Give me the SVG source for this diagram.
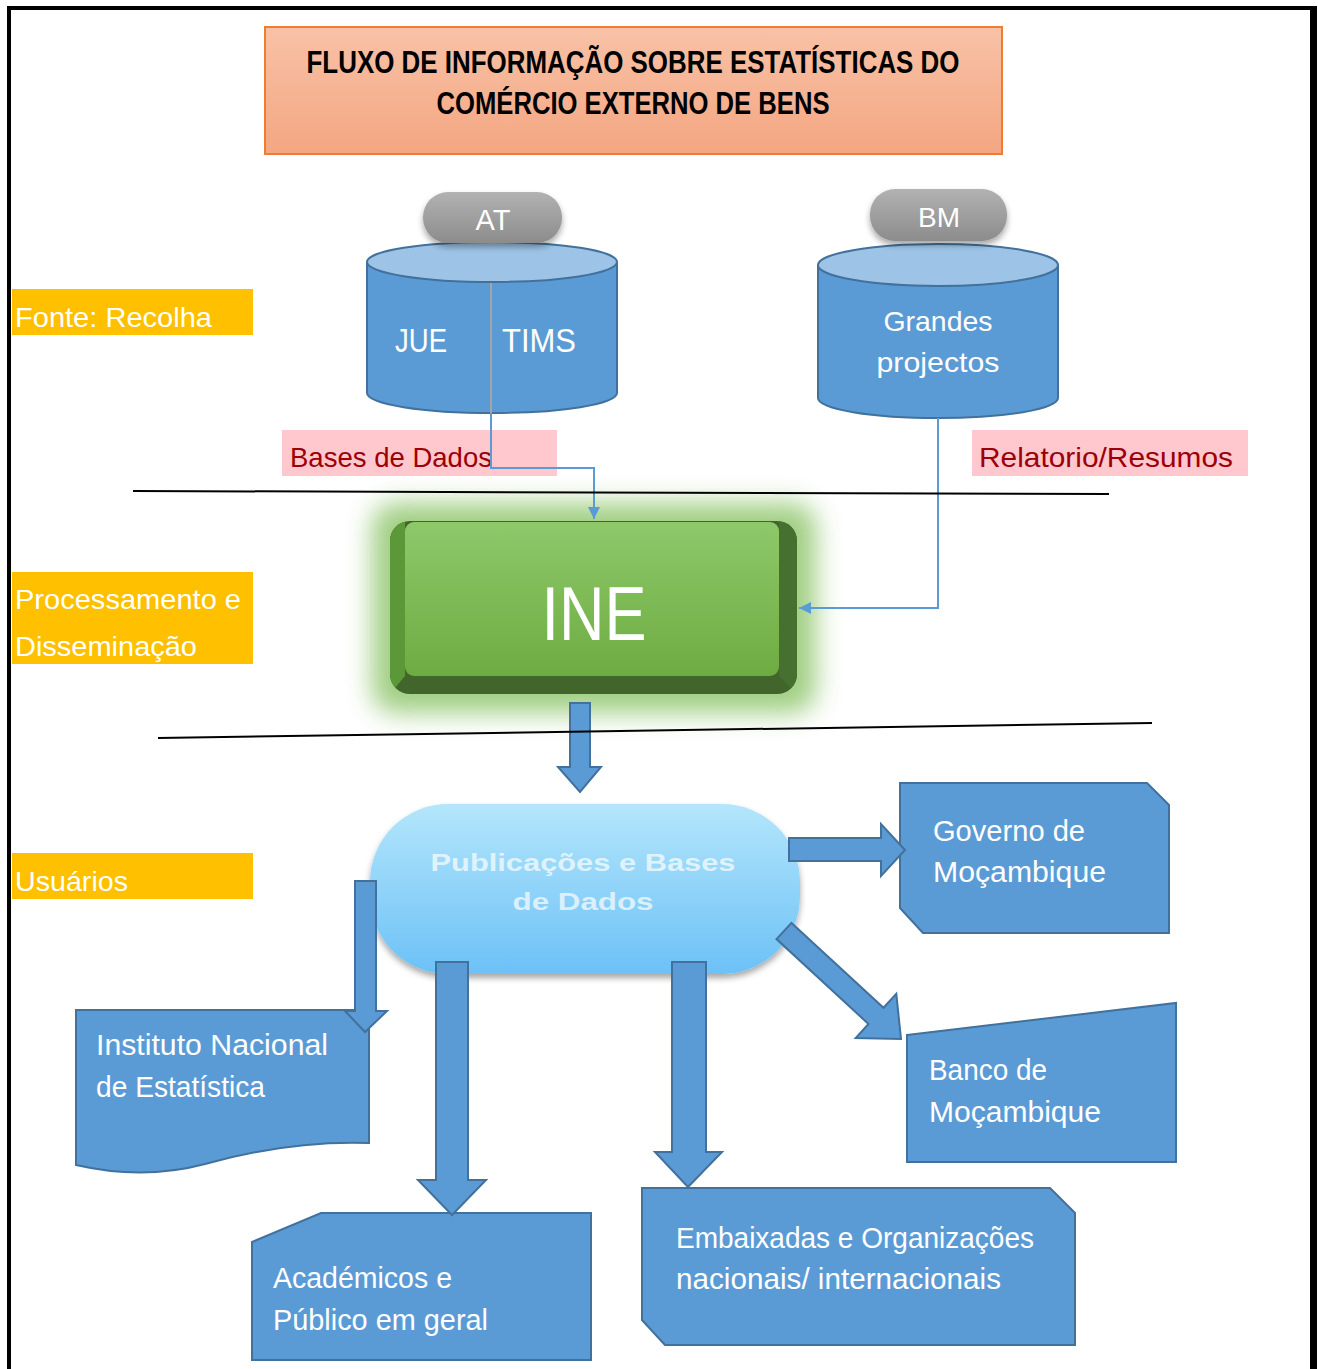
<svg xmlns="http://www.w3.org/2000/svg" width="1318" height="1369" viewBox="0 0 1318 1369">
<style>
  .lbl { font-family: "Liberation Sans", Arial, sans-serif; fill: #ffffff; }
  .side { fill: #ffc000; }
  .sidet { font-family: "Liberation Sans", Arial, sans-serif; fill: #ffffff; font-size: 28px; }
  .pink { fill: #ffc7ce; }
  .pinkt { font-family: "Liberation Sans", Arial, sans-serif; fill: #9c0006; font-size: 28px; }
  .blue { fill: #5b9bd5; stroke: #41719c; stroke-width: 2; }
  .cyltop { fill: #9dc3e6; stroke: #41719c; stroke-width: 2; }
  .conn { fill: none; stroke: #5b9bd5; stroke-width: 2; }
  .sep { stroke: #000000; stroke-width: 2; fill: none; }
</style>
<defs>
  <linearGradient id="gTitle" x1="0" y1="0" x2="0" y2="1">
    <stop offset="0" stop-color="#f8c2a7"/>
    <stop offset="1" stop-color="#f4a681"/>
  </linearGradient>
  <linearGradient id="gGray" x1="0" y1="0" x2="0" y2="1">
    <stop offset="0" stop-color="#b2b2b2"/>
    <stop offset="1" stop-color="#8c8c8c"/>
  </linearGradient>
  <linearGradient id="gInes" x1="0" y1="0" x2="0" y2="1">
    <stop offset="0" stop-color="#8dc96a"/>
    <stop offset="1" stop-color="#6eac42"/>
  </linearGradient>
  <linearGradient id="gPub" x1="0" y1="0" x2="0" y2="1">
    <stop offset="0" stop-color="#b4e6fb"/>
    <stop offset="1" stop-color="#6cc1f7"/>
  </linearGradient>
  <clipPath id="ineClip">
    <rect x="390" y="521" width="407" height="173" rx="20"/>
  </clipPath>
  <filter id="shadow" x="-20%" y="-30%" width="140%" height="170%">
    <feDropShadow dx="0" dy="4" stdDeviation="3" flood-color="#000000" flood-opacity="0.35"/>
  </filter>
  <filter id="glow" x="-30%" y="-40%" width="160%" height="180%">
    <feGaussianBlur stdDeviation="13"/>
  </filter>
  <marker id="arr" viewBox="0 0 10 10" refX="10" refY="5" markerWidth="6" markerHeight="6" orient="auto" markerUnits="strokeWidth">
    <path d="M0,0 L10,5 L0,10 Z" fill="#5b9bd5"/>
  </marker>
</defs>

<rect x="0" y="0" width="1318" height="1369" fill="#ffffff"/>

<!-- frame -->
<g id="frame">
  <line x1="9" y1="6" x2="9" y2="1369" stroke="#000" stroke-width="4"/>
  <line x1="7" y1="8" x2="1317" y2="8" stroke="#000" stroke-width="4"/>
  <line x1="1313.5" y1="6" x2="1313.5" y2="1369" stroke="#000" stroke-width="7"/>
</g>

<!-- title -->
<g id="title">
  <rect x="265" y="27" width="737" height="127" fill="url(#gTitle)" stroke="#ed7d31" stroke-width="2"/>
  <text x="633" y="73" text-anchor="middle" font-family="Liberation Sans, Arial, sans-serif" font-weight="bold" font-size="31" textLength="653" lengthAdjust="spacingAndGlyphs" fill="#000">FLUXO DE INFORMAÇÃO SOBRE ESTATÍSTICAS DO</text>
  <text x="633" y="114" text-anchor="middle" font-family="Liberation Sans, Arial, sans-serif" font-weight="bold" font-size="31" textLength="393" lengthAdjust="spacingAndGlyphs" fill="#000">COMÉRCIO EXTERNO DE BENS</text>
</g>

<!-- side labels -->
<g id="label-fonte">
  <rect class="side" x="12" y="289" width="241" height="46"/>
  <text class="sidet" x="15" y="327" textLength="197" lengthAdjust="spacingAndGlyphs">Fonte: Recolha</text>
</g>
<g id="label-processamento">
  <rect class="side" x="12" y="572" width="241" height="92"/>
  <text class="sidet" x="15" y="609" textLength="226" lengthAdjust="spacingAndGlyphs">Processamento e</text>
  <text class="sidet" x="15" y="656" textLength="182" lengthAdjust="spacingAndGlyphs">Disseminação</text>
</g>
<g id="label-usuarios">
  <rect class="side" x="12" y="853" width="241" height="46"/>
  <text class="sidet" x="15" y="891" textLength="113" lengthAdjust="spacingAndGlyphs">Usuários</text>
</g>

<!-- AT database -->
<g id="db-at">
  <path class="blue" d="M367,262 V393 A125,20 0 0 0 617,393 V262"/>
  <ellipse class="cyltop" cx="492" cy="262" rx="125" ry="20"/>
  <line x1="491" y1="283" x2="491" y2="413" stroke="#a5a5a5" stroke-width="2"/>
  <text class="lbl" x="395" y="352" font-size="33" textLength="52" lengthAdjust="spacingAndGlyphs">JUE</text>
  <text class="lbl" x="502" y="352" font-size="33" textLength="74" lengthAdjust="spacingAndGlyphs">TIMS</text>
</g>
<g id="tag-at">
  <rect x="423" y="192" width="139" height="51" rx="25" fill="url(#gGray)" filter="url(#shadow)"/>
  <text class="lbl" x="493" y="230" font-size="29" text-anchor="middle">AT</text>
</g>

<!-- BM database -->
<g id="db-bm">
  <path class="blue" d="M818,265 V398 A120,20 0 0 0 1058,398 V265"/>
  <ellipse class="cyltop" cx="938" cy="265" rx="120" ry="21"/>
  <text class="lbl" x="938" y="331" font-size="28" text-anchor="middle" textLength="109" lengthAdjust="spacingAndGlyphs">Grandes</text>
  <text class="lbl" x="938" y="372" font-size="28" text-anchor="middle" textLength="123" lengthAdjust="spacingAndGlyphs">projectos</text>
</g>
<g id="tag-bm">
  <rect x="870" y="189" width="137" height="52" rx="25" fill="url(#gGray)" filter="url(#shadow)"/>
  <text class="lbl" x="939" y="227" font-size="28" text-anchor="middle">BM</text>
</g>

<!-- pink labels -->
<g id="label-bases">
  <rect class="pink" x="282" y="430" width="275" height="46"/>
  <text class="pinkt" x="290" y="467" textLength="202" lengthAdjust="spacingAndGlyphs">Bases de Dados</text>
</g>
<g id="label-relatorio">
  <rect class="pink" x="972" y="430" width="276" height="46"/>
  <text class="pinkt" x="979" y="467" textLength="254" lengthAdjust="spacingAndGlyphs">Relatorio/Resumos</text>
</g>

<!-- INE -->
<g id="ine">
  <rect x="372" y="503" width="444" height="210" rx="24" fill="#95c974" opacity="0.9" filter="url(#glow)"/>
  <g clip-path="url(#ineClip)">
    <rect x="390" y="521" width="407" height="173" fill="#41652a"/>
    <polygon points="390,521 405,521 405,676 390,694" fill="#5b9837"/>
    <polygon points="779,521 797,521 797,694 779,676" fill="#467030"/>
  </g>
  <rect x="405" y="522" width="374" height="154" rx="9" fill="url(#gInes)"/>
  <text class="lbl" x="594" y="640" font-size="76" text-anchor="middle" textLength="105" lengthAdjust="spacingAndGlyphs">INE</text>
</g>

<!-- Publicações -->
<g id="publicacoes">
  <rect x="370" y="804" width="430" height="170" rx="78" fill="url(#gPub)" filter="url(#shadow)"/>
  <text x="583" y="871" text-anchor="middle" font-family="Liberation Sans, Arial, sans-serif" font-weight="bold" font-size="23" fill="#ffffff" fill-opacity="0.7" textLength="305" lengthAdjust="spacingAndGlyphs">Publicações e Bases</text>
  <text x="583" y="910" text-anchor="middle" font-family="Liberation Sans, Arial, sans-serif" font-weight="bold" font-size="23" fill="#ffffff" fill-opacity="0.7" textLength="141" lengthAdjust="spacingAndGlyphs">de Dados</text>
</g>

<!-- users -->
<g id="governo">
  <path class="blue" d="M900,783 H1147 L1169,805 V933 H923 L900,908 Z"/>
  <text class="lbl" x="933" y="841" font-size="30" textLength="152" lengthAdjust="spacingAndGlyphs">Governo de</text>
  <text class="lbl" x="933" y="882" font-size="30" textLength="173" lengthAdjust="spacingAndGlyphs">Moçambique</text>
</g>
<g id="banco">
  <path class="blue" d="M907,1035 L1176,1003 V1162 H907 Z"/>
  <text class="lbl" x="929" y="1080" font-size="30" textLength="118" lengthAdjust="spacingAndGlyphs">Banco de</text>
  <text class="lbl" x="929" y="1122" font-size="30" textLength="172" lengthAdjust="spacingAndGlyphs">Moçambique</text>
</g>
<g id="instituto">
  <path class="blue" d="M76,1010 H369 V1143 C310,1141 255,1150 205,1164 C160,1176 115,1174 76,1165 Z"/>
  <text class="lbl" x="96" y="1055" font-size="30" textLength="232" lengthAdjust="spacingAndGlyphs">Instituto Nacional</text>
  <text class="lbl" x="96" y="1097" font-size="30" textLength="169" lengthAdjust="spacingAndGlyphs">de Estatística</text>
</g>
<g id="academicos">
  <path class="blue" d="M252,1242 L321,1213 H591 V1360 H252 Z"/>
  <text class="lbl" x="273" y="1288" font-size="30" textLength="179" lengthAdjust="spacingAndGlyphs">Académicos e</text>
  <text class="lbl" x="273" y="1330" font-size="30" textLength="215" lengthAdjust="spacingAndGlyphs">Público em geral</text>
</g>
<g id="embaixadas">
  <path class="blue" d="M642,1188 H1050 L1075,1213 V1345 H665 L642,1320 Z"/>
  <text class="lbl" x="676" y="1248" font-size="30" textLength="358" lengthAdjust="spacingAndGlyphs">Embaixadas e Organizações</text>
  <text class="lbl" x="676" y="1289" font-size="30" textLength="325" lengthAdjust="spacingAndGlyphs">nacionais/ internacionais</text>
</g>

<!-- connectors -->
<g id="connectors">
  <polyline class="conn" points="491,413 491,468 594,468 594,519" marker-end="url(#arr)"/>
  <polyline class="conn" points="938,418 938,608 799,608" marker-end="url(#arr)"/>
  <path class="blue" d="M570,703 H590 V767 H601 L580,792 L558,767 H570 Z"/>
  <path class="blue" d="M789,838 H881 V824 L905,850 L881,876 V861 H789 Z"/>
  <path class="blue" d="M791.5,922.9 L883.5,1007.8 L896.3,993.9 L901,1039 L855.7,1038 L868.5,1024 L776.5,939.1 Z"/>
  <path class="blue" d="M355,881 H376 V1011 H387 L365,1032 L345,1011 H355 Z"/>
  <path class="blue" d="M436,962 H468 V1180 H486 L452,1215 L418,1180 H436 Z"/>
  <path class="blue" d="M672,962 H706 V1152 H722 L688,1187 L655,1152 H672 Z"/>
  <line class="sep" x1="133" y1="491" x2="1109" y2="494"/>
  <line class="sep" x1="158" y1="738" x2="1152" y2="723"/>
</g>
</svg>
